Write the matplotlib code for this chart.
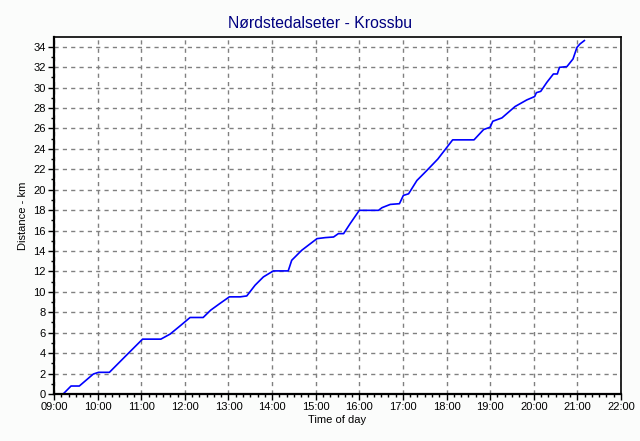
import numpy as np
import matplotlib.pyplot as plt
from matplotlib.ticker import MultipleLocator, FuncFormatter

plt.rcParams['font.family'] = ['Liberation Sans', 'DejaVu Sans']

# time of day (hours) and distance (km)
Hours = [9.21, 9.39, 9.58, 9.90, 10.02, 10.27, 10.65, 11.03, 11.45, 11.66, 11.90, 12.12, 12.42,
         12.59, 12.80, 13.02, 13.27, 13.42, 13.61, 13.80, 13.99, 14.03, 14.37, 14.45, 14.68,
         14.83, 15.03, 15.22, 15.41, 15.52, 15.64, 15.79, 16.0, 16.44, 16.52, 16.71, 16.92,
         17.01, 17.13, 17.32, 17.55, 17.80, 18.01, 18.14, 18.63, 18.85, 19.0, 19.06, 19.27,
         19.57, 19.84, 20.02, 20.06, 20.16, 20.30, 20.45, 20.54, 20.59, 20.76, 20.90, 20.99,
         21.06, 21.16]
Dist = [0.0, 0.78, 0.78, 1.95, 2.12, 2.12, 3.75, 5.37, 5.37, 5.86, 6.70, 7.49, 7.49,
        8.2, 8.85, 9.51, 9.51, 9.6, 10.65, 11.46, 11.95, 12.05, 12.05, 13.09, 14.07,
        14.56, 15.21, 15.31, 15.37, 15.7, 15.7, 16.68, 17.98, 17.98, 18.24, 18.56, 18.63,
        19.44, 19.6, 20.9, 21.89, 23.0, 24.16, 24.88, 24.88, 25.89, 26.12, 26.7, 27.03,
        28.14, 28.79, 29.12, 29.5, 29.63, 30.51, 31.33, 31.33, 31.98, 32.05, 32.8, 33.93,
        34.27, 34.6]

fig = plt.figure(figsize=(6.4, 4.41), dpi=100, facecolor='#fbfcfb')
ax = fig.add_axes([0.0844, 0.1066, 0.8859, 0.8095])

ax.plot(Hours, Dist, color='#0000ff', lw=1.2)

ax.set_xlim(9, 22)
ax.set_ylim(0, 34.95)
ax.xaxis.set_major_locator(MultipleLocator(1))
ax.xaxis.set_minor_locator(MultipleLocator(1 / 6))
ax.yaxis.set_major_locator(MultipleLocator(2))
ax.yaxis.set_minor_locator(MultipleLocator(1))
ax.xaxis.set_major_formatter(FuncFormatter(lambda v, p: '%02d:00' % int(round(v))))

ax.grid(True, which='major', color='#808080', linestyle=(0, (3, 3)), lw=1)
ax.tick_params(which='major', length=4, width=1, labelsize=8, direction='out', pad=2)
ax.tick_params(which='minor', length=2, width=1, direction='out')

for side in ['left', 'bottom']:
    ax.spines[side].set_linewidth(1.6)
for side in ['top', 'right']:
    ax.spines[side].set_linewidth(1.2)

# title is centred on the whole window, not on the axes
fig.suptitle('Nørdstedalseter - Krossbu', color='#000080', fontsize=11.3,
             x=0.5, y=0.9365, va='baseline')
ax.set_xlabel('Time of day', fontsize=8, labelpad=2)
ax.set_ylabel('Distance - km', fontsize=8, labelpad=4)

fig.savefig('out.png', dpi=100, facecolor=fig.get_facecolor())
